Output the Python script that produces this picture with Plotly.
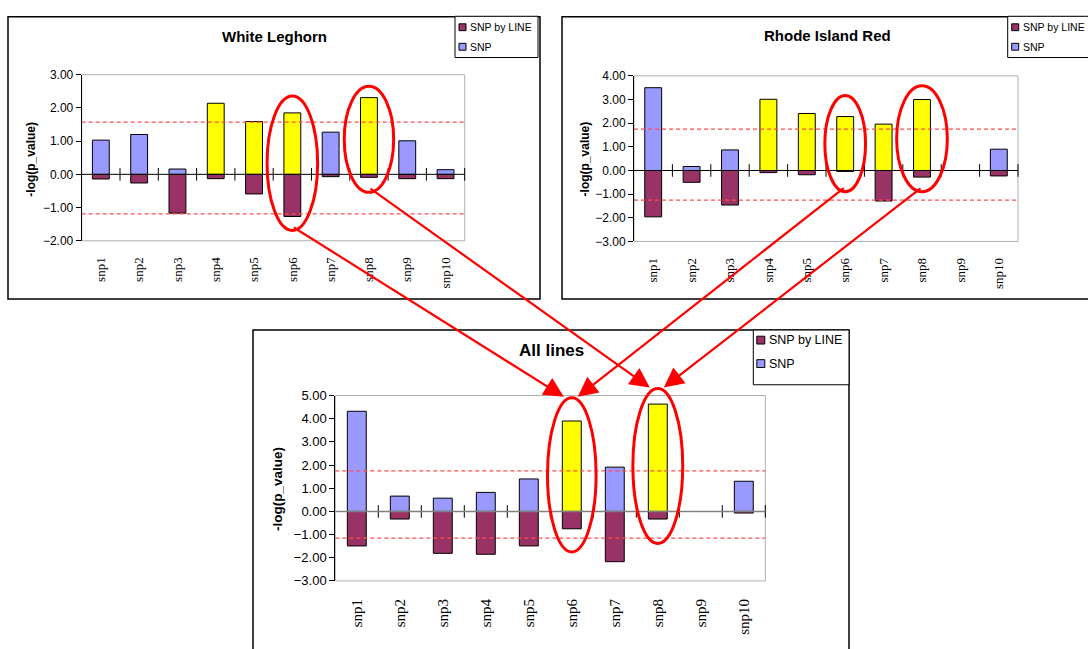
import plotly.graph_objects as go

# ---------------- data ----------------
CATEGORIES = ["snp1", "snp2", "snp3", "snp4", "snp5", "snp6", "snp7", "snp8", "snp9", "snp10"]
SERIES_NAMES = ["SNP by LINE", "SNP"]

# White Leghorn
WL_SNP = [1.03, 1.20, 0.16, 2.14, 1.59, 1.85, 1.27, 2.31, 1.01, 0.14]
WL_LINE = [-0.14, -0.26, -1.17, -0.13, -0.59, -1.27, -0.07, -0.09, -0.13, -0.13]
WL_SIG = [0, 0, 0, 1, 1, 1, 0, 1, 0, 0]
WL_THRESH = [1.57, -1.19]

# Rhode Island Red
RIR_SNP = [3.50, 0.17, 0.87, 3.01, 2.41, 2.28, 1.96, 3.00, None, 0.90]
RIR_LINE = [-1.96, -0.50, -1.46, -0.09, -0.18, -0.04, -1.29, -0.28, None, -0.23]
RIR_SIG = [0, 0, 0, 1, 1, 1, 1, 1, 0, 0]
RIR_THRESH = [1.75, -1.25]

# All lines
ALL_SNP = [4.32, 0.66, 0.57, 0.82, 1.40, 3.90, 1.91, 4.63, None, 1.30]
ALL_LINE = [-1.49, -0.33, -1.81, -1.85, -1.49, -0.75, -2.17, -0.33, None, -0.07]
ALL_SIG = [0, 0, 0, 0, 0, 1, 0, 1, 0, 0]
ALL_THRESH = [1.75, -1.15]

TITLES = ["White Leghorn", "Rhode Island Red", "All lines"]
Y_TITLE = "-log(p_value)"

COLOR_LINE = "#993366"
COLOR_SNP = "#9999ff"
COLOR_SIG = "#ffff00"
RED = "#ff0000"
SANS = "Liberation Sans, Arial, sans-serif"
SERIF = "Liberation Serif, Times New Roman, serif"

W, H = 1088, 649


def px(x):
    return x / W


def py(y):
    return 1 - y / H


panels = [
    dict(snp=WL_SNP, line=WL_LINE, sig=WL_SIG, thr=WL_THRESH, yr=(-2, 3),
         box=(8, 10, 540, 299), plot=(81.7, 69.3, 464.7, 239.3),
         title_xy=(274.6, 30), title_size=15, ytitle_xy=(31.3, 156), ytitle_size=12,
         ytick_size=12, xtick_size=13, xstand=13,
         legend=(455, 9.5, 538, 51.7), leg_font=10.5, leg_rows=(20.7, 40.7), leg_sq=7,
         zero_color="black", zero_w=1,
         ellipses=[(5, 0.66, 2.36, -1.69), (7, 0.645, 2.65, -0.54)]),
    dict(snp=RIR_SNP, line=RIR_LINE, sig=RIR_SIG, thr=RIR_THRESH, yr=(-3, 4),
         box=(562, 10, 1100, 299), plot=(634, 70.5, 1018, 240),
         title_xy=(827.5, 29), title_size=15, ytitle_xy=(585, 156), ytitle_size=12,
         ytick_size=12, xtick_size=13, xstand=13,
         legend=(1007.7, 9.5, 1100, 51.7), leg_font=10.5, leg_rows=(20.7, 40.7), leg_sq=7,
         zero_color="black", zero_w=1,
         ellipses=[(5, 0.53, 3.17, -0.90), (7, 0.66, 3.58, -0.90)]),
    dict(snp=ALL_SNP, line=ALL_LINE, sig=ALL_SIG, thr=ALL_THRESH, yr=(-3, 5),
         box=(253, 330.7, 849, 660), plot=(335.3, 397.7, 765.3, 587.5),
         title_xy=(551.8, 352), title_size=17, ytitle_xy=(277.5, 494), ytitle_size=13.5,
         ytick_size=13, xtick_size=15, xstand=14,
         legend=(753.3, 330.7, 849, 386.7), leg_font=12.5, leg_rows=(341, 365), leg_sq=8,
         zero_color="#808080", zero_w=1.5,
         ellipses=[(5, 0.565, 4.90, -1.75), (7, 0.58, 5.30, -1.38)]),
]

X_IDX = list(range(len(CATEGORIES)))
BOUNDS = [i + 0.5 for i in X_IDX]

fig = go.Figure()
shapes = []
annotations = []
layout_axes = {}


def d2p(p, xi, yv):
    """data (category index, value) -> pixel coordinates for panel p"""
    l, t, r, b = p["plot"]
    lo, hi = p["yr"]
    n = len(CATEGORIES)
    return l + (xi + 0.5) / n * (r - l), t + (hi - yv) / (hi - lo) * (b - t)


for k, p in enumerate(panels):
    sfx = "" if k == 0 else str(k + 1)
    xa, ya = "x" + sfx, "y" + sfx
    l, t, r, b = p["plot"]

    # panel frame
    bx0, by0, bx1, by1 = p["box"]
    shapes.append(dict(type="rect", xref="paper", yref="paper",
                       x0=px(bx0), x1=px(bx1), y0=py(by1), y1=py(by0),
                       line=dict(color="black", width=1.5), fillcolor="white", layer="below"))
    # plot-area frame (grey)
    shapes.append(dict(type="rect", xref=xa + " domain", yref=ya + " domain",
                       x0=0, x1=1, y0=0, y1=1, line=dict(color="#b0b0b0", width=1), layer="below"))

    # bars
    snp_colors = [COLOR_SIG if s else COLOR_SNP for s in p["sig"]]
    fig.add_trace(go.Bar(x=X_IDX, y=p["line"], name=SERIES_NAMES[0], width=0.44,
                         marker=dict(color=COLOR_LINE, line=dict(color="black", width=1)),
                         xaxis=xa, yaxis=ya, showlegend=False))
    fig.add_trace(go.Bar(x=X_IDX, y=p["snp"], name=SERIES_NAMES[1], width=0.44,
                         marker=dict(color=snp_colors, line=dict(color="black", width=1)),
                         xaxis=xa, yaxis=ya, showlegend=False))

    # zero line (category axis crossing) with its tick marks
    shapes.append(dict(type="line", xref=xa + " domain", yref=ya, x0=0, x1=1, y0=0, y1=0,
                       line=dict(color=p["zero_color"], width=p["zero_w"]), layer="above"))
    fig.add_trace(go.Scatter(x=BOUNDS, y=[0] * len(BOUNDS), mode="markers",
                             marker=dict(symbol="line-ns", size=9,
                                         line=dict(color="black", width=1)),
                             xaxis=xa, yaxis=ya, showlegend=False, hoverinfo="skip",
                             cliponaxis=False))

    # threshold lines
    for th in p["thr"]:
        shapes.append(dict(type="line", xref=xa + " domain", yref=ya, x0=0, x1=1, y0=th, y1=th,
                           line=dict(color="#ff4d4d", width=1.3, dash="4px,3px"), layer="above"))

    # axes
    layout_axes["xaxis" + sfx] = dict(
        domain=[px(l), px(r)], anchor=ya, range=[-0.5, len(CATEGORIES) - 0.5],
        tickmode="array", tickvals=X_IDX, ticktext=CATEGORIES, tickangle=-90,
        tickfont=dict(family=SERIF, size=p["xtick_size"], color="black"),
        ticks="", showline=False, showgrid=False, zeroline=False,
        ticklabelstandoff=p["xstand"], fixedrange=True)
    lo, hi = p["yr"]
    layout_axes["yaxis" + sfx] = dict(
        domain=[py(b), py(t)], anchor=xa, range=[lo, hi], dtick=1, tick0=0,
        tickformat=".2f", ticks="outside", ticklen=5, tickcolor="black",
        tickfont=dict(family=SANS, size=p["ytick_size"], color="black"),
        showline=True, linecolor="black", linewidth=1, showgrid=False, zeroline=False,
        fixedrange=True)

    # titles
    tx, ty = p["title_xy"]
    annotations.append(dict(text="<b>" + TITLES[k] + "</b>", x=px(tx), y=py(ty), xref="paper",
                            yref="paper", showarrow=False, xanchor="center", yanchor="middle",
                            font=dict(family=SANS, size=p["title_size"], color="black")))
    yx, yy = p["ytitle_xy"]
    annotations.append(dict(text="<b>" + Y_TITLE + "</b>", x=px(yx), y=py(yy), xref="paper",
                            yref="paper", showarrow=False, textangle=-90, xanchor="center",
                            yanchor="middle",
                            font=dict(family=SANS, size=p["ytitle_size"], color="black")))

    # legend box
    lx0, ly0, lx1, ly1 = p["legend"]
    shapes.append(dict(type="rect", xref="paper", yref="paper", x0=px(lx0), x1=px(lx1),
                       y0=py(ly1), y1=py(ly0), line=dict(color="black", width=1),
                       fillcolor="white", layer="above"))
    sq = p["leg_sq"]
    for name, col, rowy in zip(SERIES_NAMES, [COLOR_LINE, COLOR_SNP], p["leg_rows"]):
        cx = lx0 + 7.5
        shapes.append(dict(type="rect", xref="paper", yref="paper",
                           x0=px(cx - sq / 2), x1=px(cx + sq / 2),
                           y0=py(rowy + sq / 2), y1=py(rowy - sq / 2),
                           line=dict(color="black", width=1), fillcolor=col, layer="above"))
        annotations.append(dict(text=name, x=px(cx + sq / 2 + 2), y=py(rowy), xref="paper",
                                yref="paper", showarrow=False, xanchor="left", yanchor="middle",
                                font=dict(family=SANS, size=p["leg_font"], color="black")))

    # red ellipses
    p["ell_px"] = []
    for (xi, hw, ytop, ybot) in p["ellipses"]:
        x0, y0 = d2p(p, xi - hw, ytop)
        x1, y1 = d2p(p, xi + hw, ybot)
        shapes.append(dict(type="circle", xref="paper", yref="paper",
                           x0=px(x0), x1=px(x1), y0=py(y1), y1=py(y0),
                           line=dict(color=RED, width=3), layer="above"))
        p["ell_px"].append(((x0 + x1) / 2, y0, y1))

# arrows from top panels to the bottom panel
bottom = panels[2]["ell_px"]
for src, dx in ((panels[0], -8), (panels[1], 6)):
    for j in range(2):
        tcx, _, tbot = src["ell_px"][j]
        hcx, htop, _ = bottom[j]
        hx, hy = hcx + dx, htop - 1
        annotations.append(dict(text="", x=px(hx), y=py(hy), xref="paper", yref="paper",
                                showarrow=True, axref="pixel", ayref="pixel",
                                ax=tcx - hx, ay=tbot - hy, arrowhead=2, arrowsize=1.8,
                                arrowwidth=2.2, arrowcolor=RED, standoff=0))

fig.update_layout(
    width=W, height=H, autosize=False,
    margin=dict(l=0, r=0, t=0, b=0),
    paper_bgcolor="white", plot_bgcolor="rgba(0,0,0,0)",
    barmode="overlay", showlegend=False, hovermode=False,
    shapes=shapes, annotations=annotations,
    **layout_axes,
)

fig.write_html(
    "out.html",
    config={"displayModeBar": False, "staticPlot": True},
    post_script=("document.body.style.margin='0';"
                 "document.body.style.overflow='hidden';"
                 "document.documentElement.style.overflow='hidden';"),
)
